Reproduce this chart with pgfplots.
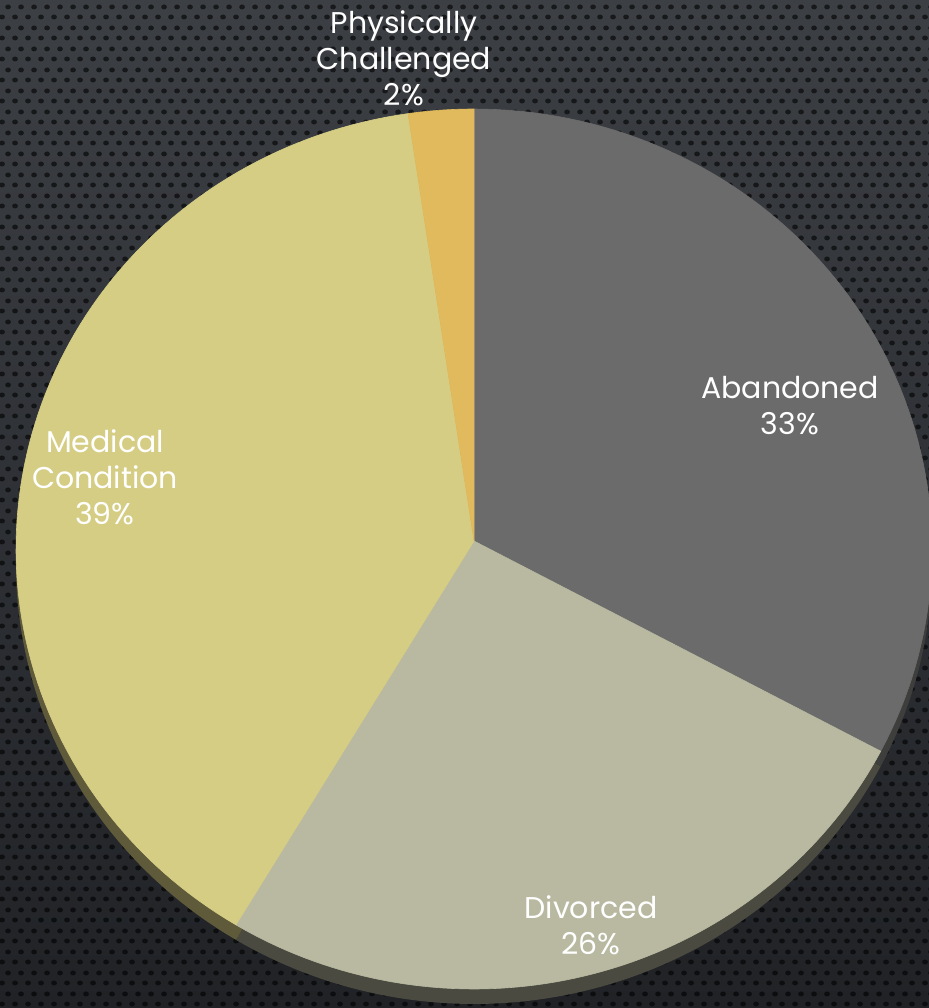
\documentclass[border=0pt]{standalone}
\usepackage{pgfplots}
\pgfplotsset{compat=1.18}
\usepackage{fontspec}
\setmainfont{Poppins}
\usetikzlibrary{patterns.meta}
\definecolor{bgtop}{HTML}{3C3F44}
\definecolor{bgmid}{HTML}{2F3237}
\definecolor{bgbot}{HTML}{202226}
\definecolor{cAband}{HTML}{6B6B6B}
\definecolor{cDiv}{HTML}{B8B9A0}
\definecolor{cMed}{HTML}{D6CD84}
\definecolor{cPhys}{HTML}{E0BA5C}
\definecolor{rAband}{HTML}{3E3E3C}
\definecolor{rDiv}{HTML}{4A4A40}
\definecolor{rMed}{HTML}{5F5B3A}
\tikzdeclarepattern{
  name=hexdots,
  type=uncolored,
  bounding box={(0pt,0pt) and (6.5pt,10.5pt)},
  tile size={(6.5pt,10.5pt)},
  code={
    \pgfpathellipse{\pgfpoint{1.625pt}{2.625pt}}{\pgfpoint{1.55pt}{0pt}}{\pgfpoint{0pt}{1.3pt}}
    \pgfpathellipse{\pgfpoint{4.875pt}{7.875pt}}{\pgfpoint{1.55pt}{0pt}}{\pgfpoint{0pt}{1.3pt}}
    \pgfusepath{fill}
  }
}
% shares (percent), clockwise from 12 o'clock
\def\pA{32.6}% Abandoned
\def\pB{26.1}% Divorced
\def\pC{39.0}% Medical Condition
\def\pD{2.3}%  Physically Challenged
\pgfmathsetmacro{\tA}{90}
\pgfmathsetmacro{\tB}{\tA-3.6*\pA}
\pgfmathsetmacro{\tC}{\tB-3.6*\pB}
\pgfmathsetmacro{\tD}{\tC-3.6*\pC}
\pgfmathsetmacro{\tE}{\tD-3.6*\pD}
\def\cx{474}\def\cy{459}\def\rx{458}\def\ry{440}
\def\ax{474}\def\ay{467}
\def\dz{15}
\begin{document}
\begin{tikzpicture}
\useasboundingbox (0,0) rectangle (464.5pt,504pt);
\shade[top color=bgtop, middle color=bgmid, bottom color=bgbot] (0,0) rectangle (464.5pt,504pt);
\fill[pattern=hexdots, pattern color=black, opacity=0.6] (0,0) rectangle (464.5pt,504pt);
\begin{axis}[
  at={(0,0)}, anchor=south west,
  scale only axis, width=464.5pt, height=504pt,
  xmin=0, xmax=929, ymin=0, ymax=1008,
  hide axis, clip=true,
]
% side rim (3D depth)
\addplot[draw=none, fill=rAband, domain=\tB:\tA, samples=80, variable=\t]
  ({\cx+\rx*cos(\t)}, {\cy-\dz+\ry*sin(\t)}) -- (axis cs:\ax,\ay-\dz) -- cycle;
\addplot[draw=none, fill=rDiv, domain=\tC:\tB, samples=80, variable=\t]
  ({\cx+\rx*cos(\t)}, {\cy-\dz+\ry*sin(\t)}) -- (axis cs:\ax,\ay-\dz) -- cycle;
\addplot[draw=none, fill=rMed, domain=\tD:\tC, samples=100, variable=\t]
  ({\cx+\rx*cos(\t)}, {\cy-\dz+\ry*sin(\t)}) -- (axis cs:\ax,\ay-\dz) -- cycle;
% top faces
\addplot[draw=cAband, line width=0.3pt, fill=cAband, domain=\tB:\tA, samples=80, variable=\t]
  ({\cx+\rx*cos(\t)}, {\cy+\ry*sin(\t)}) -- (axis cs:\ax,\ay) -- cycle;
\addplot[draw=cDiv, line width=0.3pt, fill=cDiv, domain=\tC:\tB, samples=80, variable=\t]
  ({\cx+\rx*cos(\t)}, {\cy+\ry*sin(\t)}) -- (axis cs:\ax,\ay) -- cycle;
\addplot[draw=cMed, line width=0.3pt, fill=cMed, domain=\tD:\tC, samples=100, variable=\t]
  ({\cx+\rx*cos(\t)}, {\cy+\ry*sin(\t)}) -- (axis cs:\ax,\ay) -- cycle;
\addplot[draw=cPhys, line width=0.3pt, fill=cPhys, domain=\tE:\tD, samples=20, variable=\t]
  ({\cx+\rx*cos(\t)}, {\cy+\ry*sin(\t)}) -- (axis cs:\ax,\ay) -- cycle;
% labels
\tikzset{lab/.style={text=white, align=center, inner sep=0pt, font=\fontsize{15pt}{18pt}\selectfont}}
\node[lab] at (axis cs:790,602) {Abandoned\\33\%};
\node[lab] at (axis cs:591,83) {Divorced\\26\%};
\node[lab] at (axis cs:105,531) {Medical\\Condition\\39\%};
\node[lab] at (axis cs:404,950) {Physically\\Challenged\\2\%};
\end{axis}
\end{tikzpicture}
\end{document}
